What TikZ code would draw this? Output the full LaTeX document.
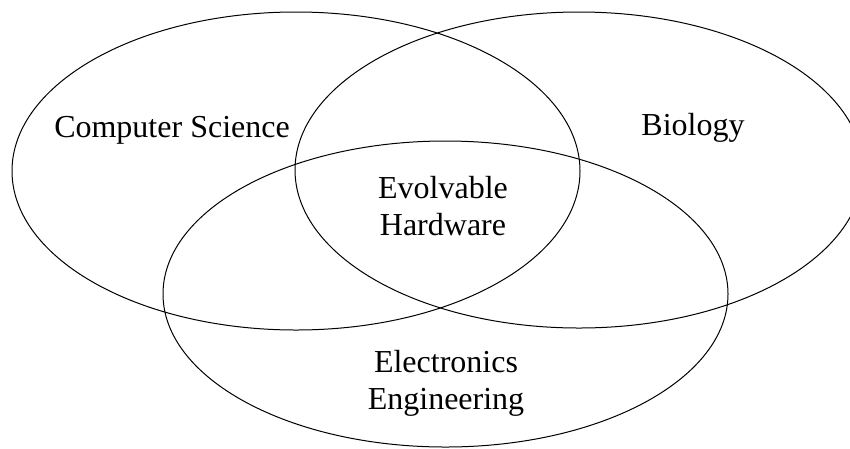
\documentclass[tikz,border=0pt]{standalone}
\usepackage{fontspec}
\setmainfont{Liberation Serif}
\begin{document}
\begin{tikzpicture}[x=1pt,y=-1pt,
  field/.style={draw=black,line width=1pt},
  label/.style={font=\fontsize{32}{37}\selectfont,align=center,anchor=base,inner sep=0pt}]
  \useasboundingbox (0,0) rectangle (850,448);
  \clip (0,0) rectangle (850,448);
  % the three overlapping fields
  \draw[field] (296,171) ellipse [x radius=284, y radius=159];
  \draw[field] (579,170) ellipse [x radius=284, y radius=158];
  \draw[field] (445.5,294) ellipse [x radius=282.5, y radius=153];
  % field names (base anchor sits on the last line)
  \node[label] (cs)  at (172,137) {Computer Science};
  \node[label] (bio) at (693,135) {Biology};
  \node[label] (ehw) at (443,235) {Evolvable\\Hardware};
  \node[label] (ee)  at (446,409) {Electronics\\Engineering};
\end{tikzpicture}
\end{document}
